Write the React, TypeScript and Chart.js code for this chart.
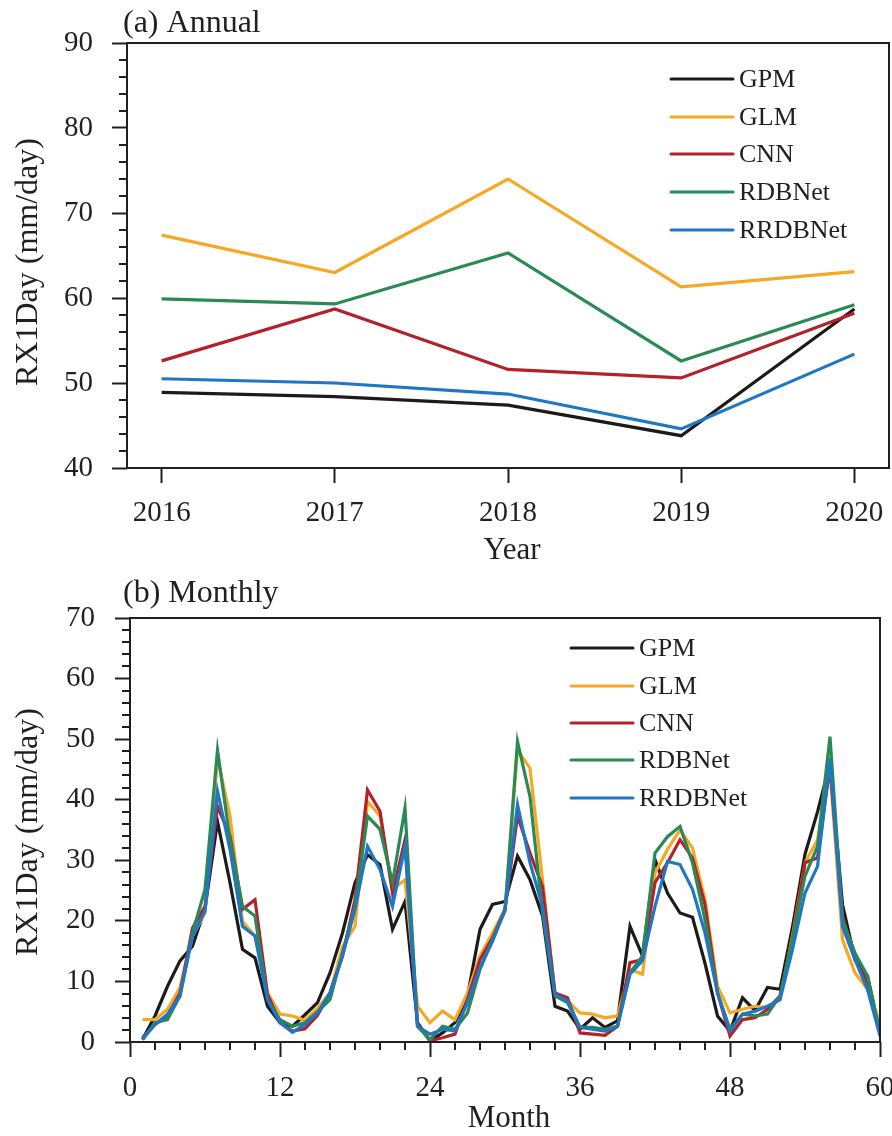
import React, { useEffect, useRef } from 'react';
import { Chart, registerables } from 'chart.js';

Chart.register(...registerables);

// ---------------- data ----------------
const SERIES_NAMES = ['GPM', 'GLM', 'CNN', 'RDBNet', 'RRDBNet'];
const SERIES_COLORS = ['#1e1a1a', '#f7a823', '#b3222a', '#2a8a55', '#1f77c4'];

const YEARS = [2016, 2017, 2018, 2019, 2020];
const annualGPM = [48.9, 48.4, 47.4, 43.8, 58.7];
const annualGLM = [67.4, 63.0, 74.0, 61.3, 63.1];
const annualCNN = [52.6, 58.7, 51.6, 50.6, 58.2];
const annualRDBNet = [59.9, 59.3, 65.3, 52.6, 59.2];
const annualRRDBNet = [50.5, 50.0, 48.7, 44.6, 53.4];

const MONTHS = [
  1, 2, 3, 4, 5, 6, 7, 8, 9, 10, 11, 12, 13, 14, 15, 16, 17, 18, 19, 20,
  21, 22, 23, 24, 25, 26, 27, 28, 29, 30, 31, 32, 33, 34, 35, 36, 37, 38, 39, 40,
  41, 42, 43, 44, 45, 46, 47, 48, 49, 50, 51, 52, 53, 54, 55, 56, 57, 58, 59, 60,
];
const monthlyGPM = [
  0.4, 4.3, 9.2, 13.4, 15.8, 22.0, 36.4, 26.3, 15.3, 13.9, 5.9, 3.2,
  2.6, 4.5, 6.5, 11.4, 18.0, 26.3, 30.9, 29.3, 18.6, 23.2, 3.2, 0.2,
  1.5, 3.2, 7.6, 18.6, 22.7, 23.2, 30.7, 26.8, 20.8, 5.9, 5.1, 2.1,
  4.0, 2.4, 3.5, 19.1, 14.2, 30.1, 24.6, 21.3, 20.6, 13.0, 4.3, 1.8,
  7.3, 5.2, 9.0, 8.7, 19.0, 31.0, 38.0, 46.0, 22.7, 13.6, 10.9, 1.5,
];
const monthlyGLM = [
  3.7, 3.7, 5.4, 9.0, 17.5, 21.3, 46.9, 37.3, 19.9, 17.5, 8.1, 4.6,
  4.3, 3.6, 5.6, 8.1, 15.8, 19.1, 39.7, 37.3, 25.2, 26.8, 5.9, 3.2,
  5.1, 3.7, 8.1, 14.2, 18.0, 21.9, 48.2, 45.2, 26.8, 7.9, 6.8, 4.8,
  4.6, 4.0, 4.3, 12.0, 11.2, 27.9, 31.8, 35.0, 32.0, 23.5, 9.2, 4.8,
  5.4, 5.9, 5.7, 7.0, 17.5, 29.6, 33.4, 44.9, 16.9, 11.4, 8.7, 3.2,
];
const monthlyCNN = [
  0.7, 2.9, 4.3, 8.1, 18.8, 22.4, 38.9, 34.0, 21.9, 23.5, 7.9, 3.2,
  1.8, 2.2, 4.4, 8.1, 14.2, 23.5, 41.6, 38.1, 24.6, 33.4, 2.9, 0.2,
  0.7, 1.3, 7.0, 13.6, 17.2, 21.9, 37.3, 31.2, 25.7, 8.1, 7.3, 1.5,
  1.3, 1.1, 2.6, 13.1, 13.6, 26.3, 29.6, 33.4, 30.4, 22.7, 8.1, 1.0,
  3.7, 4.0, 5.4, 7.6, 16.9, 29.6, 30.4, 45.5, 20.8, 13.6, 9.8, 1.5,
];
const monthlyRDBNet = [
  0.4, 3.2, 3.7, 7.6, 18.0, 25.2, 48.2, 33.4, 22.4, 20.8, 7.0, 3.7,
  2.6, 3.2, 5.0, 7.0, 14.7, 22.4, 37.3, 35.1, 26.3, 38.6, 2.6, 0.4,
  2.6, 2.1, 4.8, 12.0, 16.9, 21.6, 49.6, 40.5, 21.3, 7.6, 6.5, 2.4,
  2.4, 2.1, 2.6, 11.4, 14.2, 31.2, 33.9, 35.6, 29.6, 20.2, 8.1, 2.1,
  4.6, 4.3, 4.6, 7.6, 16.9, 27.4, 32.3, 50.4, 20.2, 14.7, 10.9, 1.5,
];
const monthlyRRDBNet = [
  0.4, 2.9, 4.6, 7.6, 17.5, 21.6, 41.4, 31.8, 19.1, 17.5, 7.0, 3.2,
  1.6, 2.9, 4.8, 8.1, 14.2, 21.9, 32.3, 28.5, 22.4, 32.3, 2.6, 1.3,
  2.1, 1.8, 6.5, 12.3, 16.6, 21.9, 39.2, 29.6, 22.4, 7.9, 6.8, 2.4,
  2.1, 1.8, 2.6, 11.2, 13.4, 22.4, 29.8, 29.3, 25.2, 18.0, 8.1, 1.8,
  4.6, 5.1, 5.9, 7.0, 15.3, 24.6, 29.0, 46.6, 19.1, 13.6, 8.7, 1.0,
];

const ANNUAL_SERIES = [annualGPM, annualGLM, annualCNN, annualRDBNet, annualRRDBNet];
const MONTHLY_SERIES = [monthlyGPM, monthlyGLM, monthlyCNN, monthlyRDBNet, monthlyRRDBNet];

const ANNUAL_Y_TICKS = [40, 50, 60, 70, 80, 90];
const ANNUAL_Y_MINOR = [42, 44, 46, 48, 52, 54, 56, 58, 62, 64, 66, 68, 72, 74, 76, 78, 82, 84, 86, 88];
const MONTHLY_X_TICKS = [0, 12, 24, 36, 48, 60];
const MONTHLY_X_MINOR = [2, 4, 6, 8, 10, 14, 16, 18, 20, 22, 26, 28, 30, 32, 34, 38, 40, 42, 44, 46, 50, 52, 54, 56, 58];
const MONTHLY_Y_TICKS = [0, 10, 20, 30, 40, 50, 60, 70];
const MONTHLY_Y_MINOR = [2, 4, 6, 8, 12, 14, 16, 18, 22, 24, 26, 28, 32, 34, 36, 38, 42, 44, 46, 48, 52, 54, 56, 58, 62, 64, 66, 68];

// ---------------- styling ----------------
const FONT = "'Liberation Serif', 'Times New Roman', Times, serif";
const INK = '#231f20';
const W = 892;
const H = 568;

type Decor = {
  title: string;
  titleBaseline: number;
  xTitle: string;
  xTitleBaseline: number;
  yTitle: string;
  yTitleCenter: number;
  xMinor: number[];
  yMinor: number[];
  legendX0: number;
  legendX1: number;
  legendTextX: number;
  legendY: number[];
};

function decorPlugin(d: Decor) {
  return {
    id: 'decor',
    afterDraw(chart: any) {
      const { ctx, chartArea: ca, scales } = chart;
      ctx.save();
      ctx.strokeStyle = INK;
      ctx.lineWidth = 2;
      ctx.strokeRect(ca.left, ca.top, ca.right - ca.left, ca.bottom - ca.top);
      // minor ticks
      ctx.beginPath();
      for (const v of d.yMinor) {
        const p = Math.round(scales.y.getPixelForValue(v));
        ctx.moveTo(ca.left - 8, p);
        ctx.lineTo(ca.left, p);
      }
      for (const v of d.xMinor) {
        const p = Math.round(scales.x.getPixelForValue(v));
        ctx.moveTo(p, ca.bottom);
        ctx.lineTo(p, ca.bottom + 8);
      }
      ctx.stroke();

      // legend
      ctx.lineWidth = 3;
      ctx.lineCap = 'round';
      ctx.font = `26px ${FONT}`;
      ctx.textBaseline = 'middle';
      ctx.textAlign = 'left';
      SERIES_NAMES.forEach((name, i) => {
        const y = d.legendY[i];
        ctx.strokeStyle = SERIES_COLORS[i];
        ctx.beginPath();
        ctx.moveTo(d.legendX0, y);
        ctx.lineTo(d.legendX1, y);
        ctx.stroke();
        ctx.fillStyle = INK;
        ctx.fillText(name, d.legendTextX, y + 1);
      });

      // panel title
      ctx.fillStyle = INK;
      ctx.font = `32px ${FONT}`;
      ctx.textBaseline = 'alphabetic';
      ctx.textAlign = 'left';
      ctx.fillText(d.title, 123, d.titleBaseline);

      // x title
      ctx.font = `31px ${FONT}`;
      ctx.textAlign = 'center';
      ctx.fillText(d.xTitle, (ca.left + ca.right) / 2 + 4, d.xTitleBaseline);

      // y title
      ctx.font = `32px ${FONT}`;
      ctx.translate(37, d.yTitleCenter);
      ctx.rotate(-Math.PI / 2);
      ctx.textAlign = 'center';
      ctx.fillText(d.yTitle, 0, 0);
      ctx.restore();
    },
  };
}

function makeConfig(opts: {
  labels: number[];
  series: number[][];
  xMin: number;
  xMax: number;
  xTicks: number[];
  yMin: number;
  yMax: number;
  yTicks: number[];
  left: number;
  right: number;
  top: number;
  bottom: number;
  xPad: number;
  yPad: number;
  decor: Decor;
}) {
  const tickFont = { family: FONT, size: 29 };
  return {
    type: 'line',
    data: {
      labels: opts.labels,
      datasets: opts.series.map((s, i) => ({
        label: SERIES_NAMES[i],
        data: s,
        borderColor: SERIES_COLORS[i],
        backgroundColor: SERIES_COLORS[i],
        borderWidth: 3.2,
        pointRadius: 0,
        tension: 0,
        fill: false,
        order: SERIES_NAMES.length - i,
      })),
    },
    options: {
      responsive: false,
      animation: false,
      devicePixelRatio: 1,
      layout: { padding: { left: 0, right: W - opts.right, top: opts.top, bottom: 0 } },
      plugins: { legend: { display: false }, title: { display: false }, tooltip: { enabled: false } },
      scales: {
        x: {
          type: 'linear',
          min: opts.xMin,
          max: opts.xMax,
          afterBuildTicks: (s: any) => {
            s.ticks = opts.xTicks.map((v) => ({ value: v }));
          },
          afterFit: (s: any) => {
            s.height = H - opts.bottom;
            s.paddingLeft = 0;
            s.paddingRight = 0;
          },
          ticks: {
            color: INK,
            font: tickFont,
            padding: opts.xPad,
            maxRotation: 0,
            autoSkip: false,
            callback: (v: any) => String(v),
          },
          grid: {
            drawOnChartArea: false,
            drawTicks: true,
            tickLength: 15,
            tickWidth: 2,
            tickColor: INK,
          },
          border: { display: false },
        },
        y: {
          type: 'linear',
          min: opts.yMin,
          max: opts.yMax,
          afterBuildTicks: (s: any) => {
            s.ticks = opts.yTicks.map((v) => ({ value: v }));
          },
          afterFit: (s: any) => {
            s.width = opts.left;
            s.paddingTop = 0;
            s.paddingBottom = 0;
          },
          ticks: {
            color: INK,
            font: tickFont,
            padding: opts.yPad,
            autoSkip: false,
            callback: (v: any) => String(v),
          },
          grid: {
            drawOnChartArea: false,
            drawTicks: true,
            tickLength: 15,
            tickWidth: 2,
            tickColor: INK,
          },
          border: { display: false },
        },
      },
    },
    plugins: [decorPlugin(opts.decor)],
  };
}

function ChartCanvas({ config }: { config: any }) {
  const ref = useRef<HTMLCanvasElement | null>(null);
  useEffect(() => {
    if (!ref.current) return;
    const chart = new Chart(ref.current, config);
    return () => chart.destroy();
  }, [config]);
  return <canvas ref={ref} width={W} height={H} style={{ display: 'block', width: W, height: H }} />;
}

const annualConfig = makeConfig({
  labels: YEARS,
  series: ANNUAL_SERIES,
  xMin: 2015.8,
  xMax: 2020.2,
  xTicks: YEARS,
  yMin: 40,
  yMax: 90,
  yTicks: ANNUAL_Y_TICKS,
  left: 127,
  right: 889,
  top: 43,
  bottom: 468,
  xPad: 13,
  yPad: 19,
  decor: {
    title: '(a) Annual',
    titleBaseline: 32,
    xTitle: 'Year',
    xTitleBaseline: 559,
    yTitle: 'RX1Day (mm/day)',
    yTitleCenter: 262,
    xMinor: [],
    yMinor: ANNUAL_Y_MINOR,
    legendX0: 671,
    legendX1: 733,
    legendTextX: 739,
    legendY: [79, 117, 154, 192, 230],
  },
});

const monthlyConfig = makeConfig({
  labels: MONTHS,
  series: MONTHLY_SERIES,
  xMin: 0,
  xMax: 60,
  xTicks: MONTHLY_X_TICKS,
  yMin: 0,
  yMax: 70,
  yTicks: MONTHLY_Y_TICKS,
  left: 130,
  right: 880,
  top: 50,
  bottom: 474,
  xPad: 14,
  yPad: 20,
  decor: {
    title: '(b) Monthly',
    titleBaseline: 34,
    xTitle: 'Month',
    xTitleBaseline: 559,
    yTitle: 'RX1Day (mm/day)',
    yTitleCenter: 264,
    xMinor: MONTHLY_X_MINOR,
    yMinor: MONTHLY_Y_MINOR,
    legendX0: 571,
    legendX1: 633,
    legendTextX: 639,
    legendY: [80, 118, 155, 192, 230],
  },
});

export default function App() {
  return (
    <div style={{ position: 'absolute', left: 0, top: 0, width: W, height: 2 * H, background: '#fff' }}>
      <ChartCanvas config={annualConfig} />
      <ChartCanvas config={monthlyConfig} />
    </div>
  );
}
